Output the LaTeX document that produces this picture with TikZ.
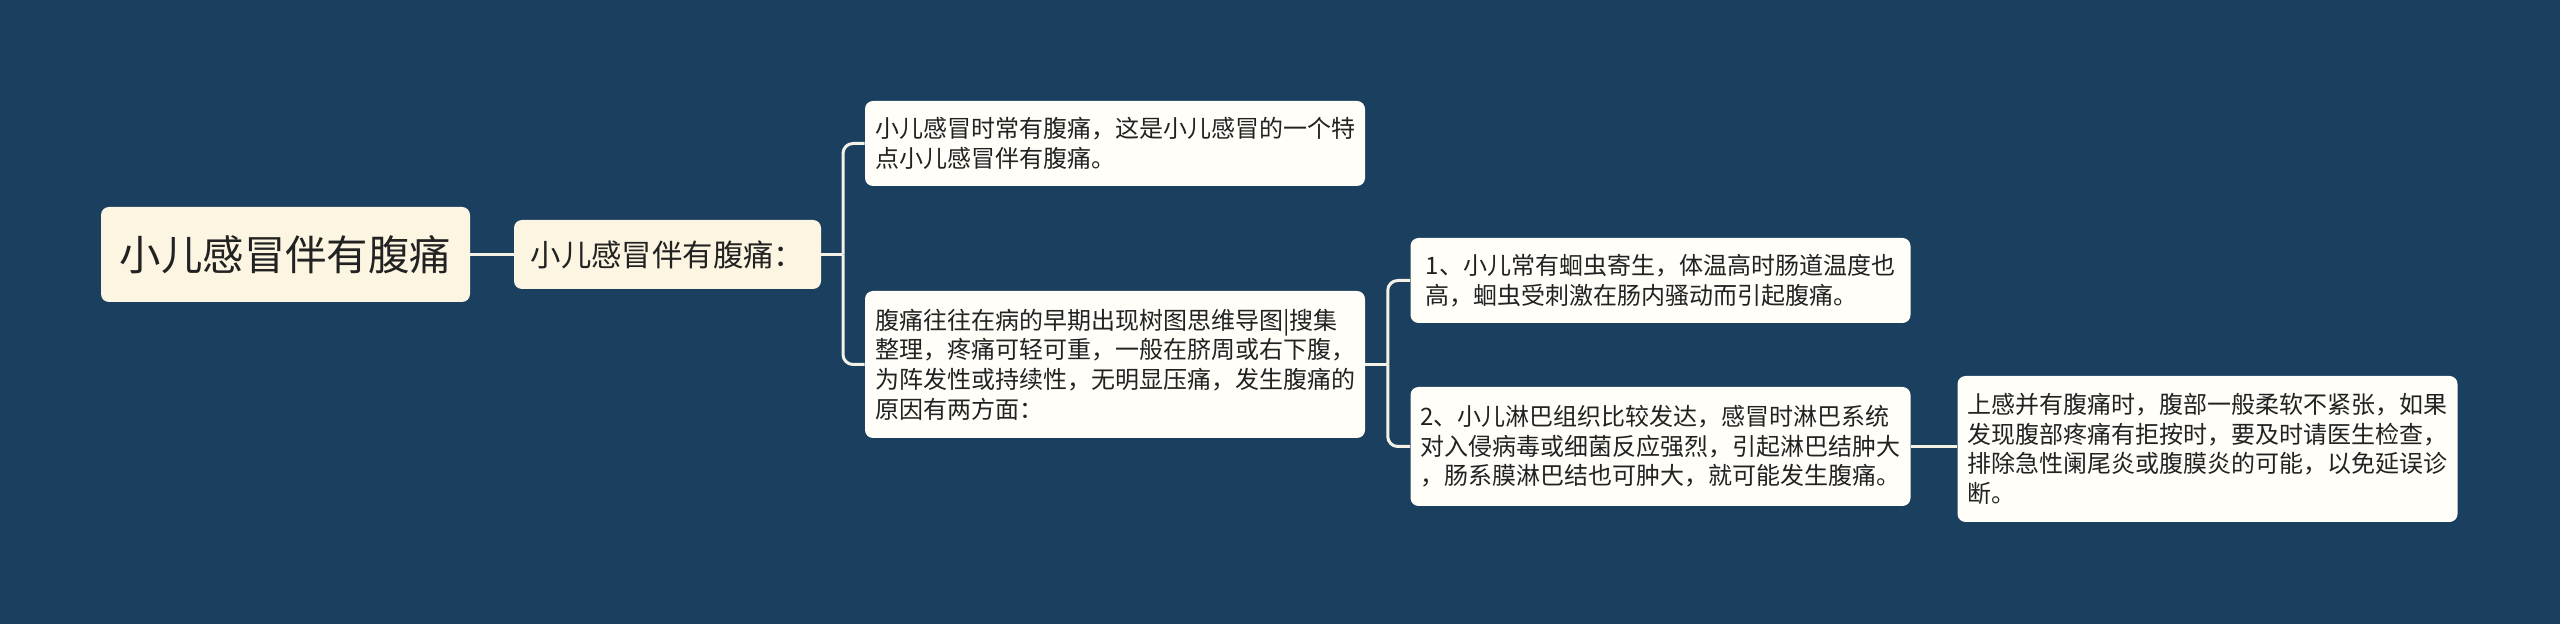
\documentclass[tikz,border=0pt]{standalone}
\usepackage{fontspec}
\setmainfont{Noto Sans CJK SC}
\usepackage{tikz}
\usetikzlibrary{calc}

\definecolor{bgblue}{HTML}{1B3F5F}
\definecolor{rootfill}{HTML}{FBF5E1}
\definecolor{leaffill}{HTML}{FFFEF8}
\definecolor{linkcol}{HTML}{F4F1E6}
\definecolor{inkcol}{HTML}{222222}

\begin{document}
\begin{tikzpicture}[x=0.5pt,y=-0.5pt,
  box/.style={rounded corners=4pt, inner sep=0pt, text=inkcol, align=left},
  rootbox/.style={box, fill=rootfill, font=\fontsize{20.7}{24}\selectfont},
  subbox/.style={box, fill=rootfill, font=\fontsize{15.2}{18}\selectfont},
  leafbox/.style={box, fill=leaffill, font=\fontsize{12}{14.8}\selectfont, minimum width=250pt},
  link/.style={draw=linkcol, line width=1.5pt},
  elbow/.style={link, rounded corners=5pt}]
            \fill[bgblue] (0,0) rectangle (2560,624);
            \node[rootbox, minimum width=184.5pt, minimum height=47.5pt] (Root) at (285.5,254.5) {小儿感冒伴有腹痛};
            \node[subbox, minimum width=153.5pt, minimum height=34.5pt] (Sub) at (667.5,254.5) {小儿感冒伴有腹痛：};
            \node[leafbox, minimum height=42.5pt] (Feat) at (1115,143.5) {小儿感冒时常有腹痛，这是小儿感冒的一个特\\点小儿感冒伴有腹痛。};
            \node[leafbox, minimum height=73.5pt] (Cause) at (1115,364.5) {腹痛往往在病的早期出现树图思维导图|搜集\\整理，疼痛可轻可重，一般在脐周或右下腹，\\为阵发性或持续性，无明显压痛，发生腹痛的\\原因有两方面：};
            \node[leafbox, minimum height=42.5pt] (Worm) at (1660.5,280.5) {1、小儿常有蛔虫寄生，体温高时肠道温度也\\高，蛔虫受刺激在肠内骚动而引起腹痛。};
            \node[leafbox, minimum height=59.5pt] (Lymph) at (1660.5,446.5) {2、小儿淋巴组织比较发达，感冒时淋巴系统\\对入侵病毒或细菌反应强烈，引起淋巴结肿大\\，肠系膜淋巴结也可肿大，就可能发生腹痛。};
            \node[leafbox, minimum height=73pt] (Check) at (2207.5,449) {上感并有腹痛时，腹部一般柔软不紧张，如果\\发现腹部疼痛有拒按时，要及时请医生检查，\\排除急性阑尾炎或腹膜炎的可能，以免延误诊\\断。};
            \coordinate (T1) at ($(Sub.east)!0.5!(Feat.west |- Sub.east)$);
            \coordinate (T2) at ($(Cause.east)!0.5!(Worm.west |- Cause.east)$);
            \draw[link] (Root) -- (Sub);
            \draw[link] (Sub.east) -- (T1);
            \draw[elbow] (T1) |- (Feat.west);
            \draw[elbow] (T1) |- (Cause.west);
            \draw[link] (Cause.east) -- (T2);
            \draw[elbow] (T2) |- (Worm.west);
            \draw[elbow] (T2) |- (Lymph.west);
            \draw[link] (Lymph.east) -- (Check.west |- Lymph.east);
        \end{tikzpicture}
\end{document}
